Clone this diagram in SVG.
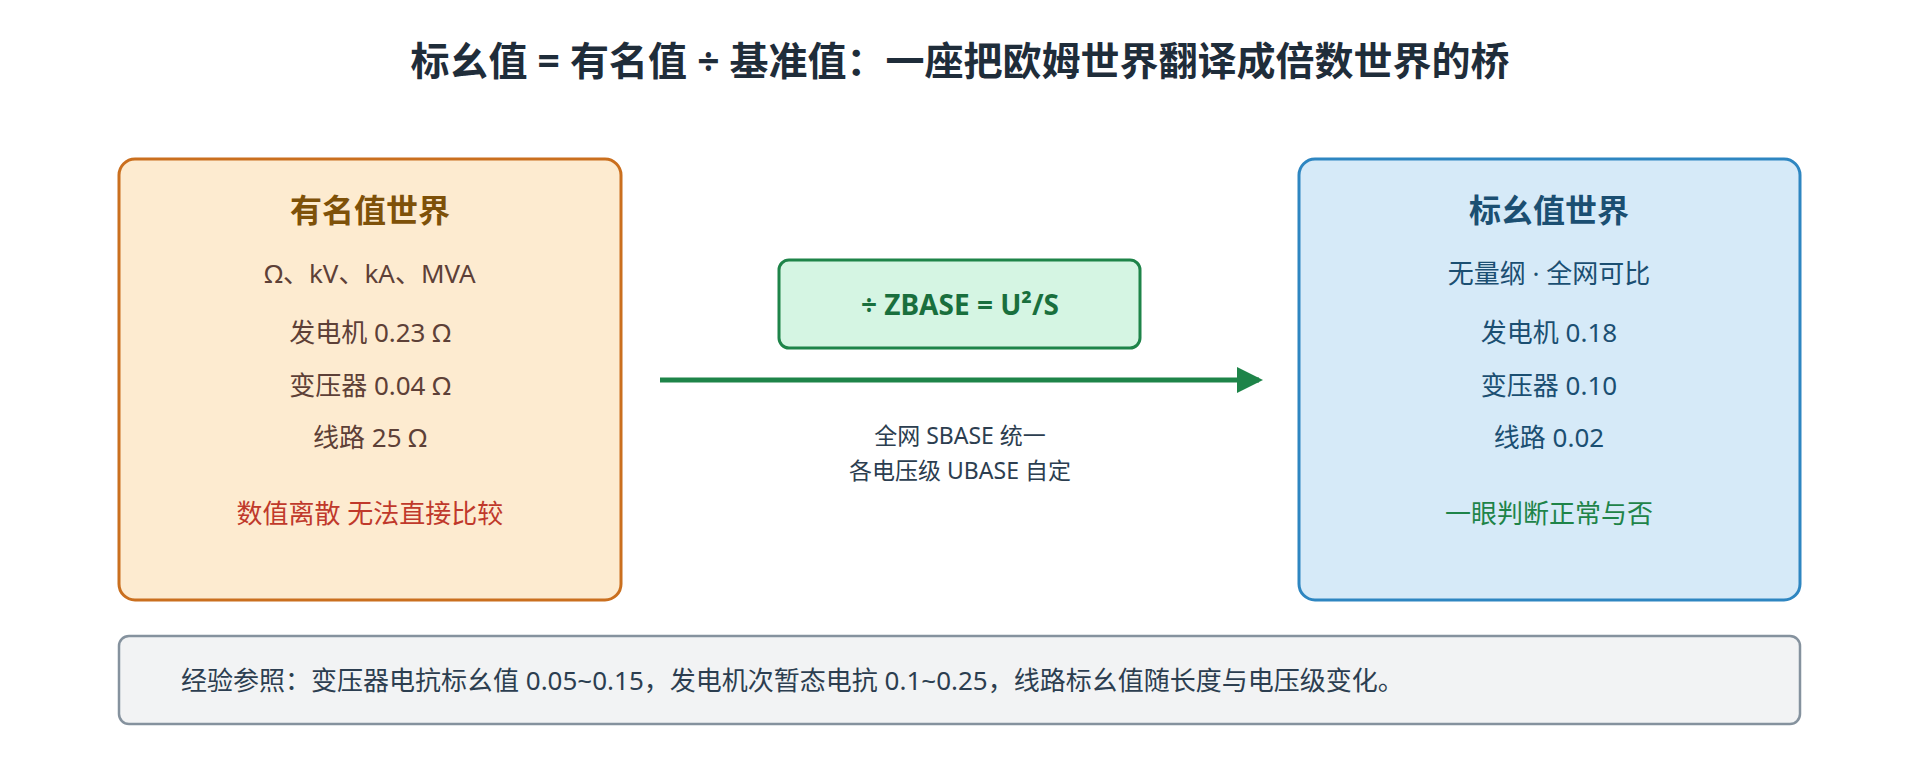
<svg xmlns="http://www.w3.org/2000/svg" width="1920" height="760" viewBox="0 0 1920 760">
<style>
text{font-family:"Noto Sans","Noto Sans CJK SC",sans-serif;text-anchor:middle}
.t{font-size:39px;font-weight:bold;fill:#1f2d3a}
.h{font-size:32px;font-weight:bold}
.b{font-size:26px}
.lt{fill:#5d4037}.rt{fill:#1b4f72}
</style>
<defs><marker id="ar" markerWidth="26" markerHeight="26" refX="22" refY="13" orient="auto" markerUnits="userSpaceOnUse" viewBox="0 0 26 26"><path d="M0,0L26,13L0,26z" fill="#1e8449"/></marker></defs>
<rect width="1920" height="760" fill="#fff"/>
<text class="t" x="960" y="75">标幺值 = 有名值 ÷ 基准值：一座把欧姆世界翻译成倍数世界的桥</text>
<g id="left">
<rect x="119" y="159" width="502" height="441" rx="16" fill="#fdebd0" stroke="#ca6f1e" stroke-width="3"/>
<text class="h" x="370" y="222" fill="#7e5109">有名值世界</text>
<text class="b lt" x="370" y="283">Ω、kV、kA、MVA</text>
<text class="b lt" x="370" y="342">发电机 0.23 Ω</text>
<text class="b lt" x="370" y="395">变压器 0.04 Ω</text>
<text class="b lt" x="370" y="447">线路 25 Ω</text>
<text class="b" x="370" y="523" fill="#c0392b">数值离散 无法直接比较</text>
</g>
<g id="right">
<rect x="1299" y="159" width="501" height="441" rx="16" fill="#d6eaf8" stroke="#2e86c1" stroke-width="3"/>
<text class="h rt" x="1549" y="222">标幺值世界</text>
<text class="b rt" x="1549" y="283">无量纲 · 全网可比</text>
<text class="b rt" x="1549" y="342">发电机 0.18</text>
<text class="b rt" x="1549" y="395">变压器 0.10</text>
<text class="b rt" x="1549" y="447">线路 0.02</text>
<text class="b" x="1549" y="523" fill="#1e8449">一眼判断正常与否</text>
</g>
<g id="mid">
<rect x="779" y="260" width="361" height="88" rx="10" fill="#d5f5e3" stroke="#1e8449" stroke-width="3"/>
<text x="960" y="315" font-size="28" font-weight="bold" fill="#196f3d">÷ ZBASE = U²/S</text>
</g>
<g id="connectors">
<line x1="660" y1="380" x2="1259" y2="380" stroke="#1e8449" stroke-width="5" marker-end="url(#ar)"/>
<text x="960" y="444" font-size="23" fill="#2c3e50">全网 SBASE 统一</text>
<text x="960" y="479" font-size="23" fill="#2c3e50">各电压级 UBASE 自定</text>
</g>
<g id="note">
<rect x="119" y="636" width="1681" height="88" rx="10" fill="#f2f3f4" stroke="#85929e" stroke-width="2.5"/>
<text x="181" y="690" font-size="26" fill="#2c3e50" style="text-anchor:start">经验参照：变压器电抗标幺值 0.05~0.15，发电机次暂态电抗 0.1~0.25，线路标幺值随长度与电压级变化。</text>
</g>
</svg>
